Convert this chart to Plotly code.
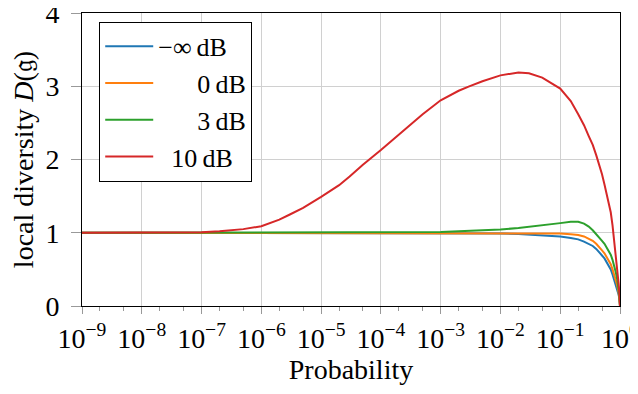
import plotly.graph_objects as go

# probability grid (x) shared by all curves
prob = [1e-9, 1e-8, 3e-8, 1e-7, 2e-7, 3e-7, 5e-7, 1e-6, 2e-6, 3e-6, 5e-6,
        1e-5, 2e-5, 3e-5, 5e-5, 1e-4, 2e-4, 3e-4, 5e-4, 1e-3, 2e-3, 3e-3,
        5e-3, 1e-2, 2e-2, 3e-2, 5e-2, 0.1, 0.15, 0.2, 0.25, 0.3, 0.35, 0.4,
        0.45, 0.5, 0.55, 0.6, 0.65, 0.7, 0.75, 0.8, 0.85, 0.9, 0.95, 0.975,
        0.99, 1.0]

# local diversity
d_minf = [1.0, 1.0, 1.0, 1.0, 1.0, 1.0, 1.0, 1.0, 1.0, 1.0, 1.0,
          1.0, 1.0, 1.0, 1.0, 1.0, 1.0, 1.0, 1.0, 0.999, 0.998, 0.996,
          0.994, 0.99, 0.982, 0.976, 0.966, 0.95, 0.93, 0.91, 0.88, 0.85, 0.82, 0.78,
          0.74, 0.69, 0.65, 0.6, 0.55, 0.5, 0.43, 0.36, 0.3, 0.23, 0.15, 0.1,
          0.04, 0.0]
d_0db = [1.0, 1.0, 1.0, 1.0, 1.0, 1.0, 1.0, 1.0, 1.0, 1.0, 1.0,
         1.0, 1.0, 1.0, 1.0, 1.0, 1.0, 1.0, 1.0, 1.0, 1.0, 1.0,
         1.0, 0.999, 0.998, 0.997, 0.995, 0.99, 0.98, 0.97, 0.95, 0.92, 0.89, 0.85,
         0.81, 0.76, 0.72, 0.67, 0.62, 0.57, 0.5, 0.43, 0.36, 0.28, 0.18, 0.12,
         0.05, 0.0]
d_3db = [1.0, 1.0, 1.0, 1.0, 1.0, 1.0, 1.0, 1.0, 1.0, 1.0, 1.0,
         1.0, 1.0, 1.0, 1.0, 1.0, 1.002, 1.003, 1.006, 1.01, 1.02, 1.025,
         1.033, 1.045, 1.065, 1.08, 1.1, 1.132, 1.152, 1.15, 1.125, 1.085, 1.035, 0.985,
         0.94, 0.89, 0.85, 0.8, 0.75, 0.7, 0.63, 0.55, 0.46, 0.36, 0.23, 0.15,
         0.06, 0.0]
d_10db = [1.0, 1.0, 1.0, 1.006, 1.02, 1.033, 1.05, 1.09, 1.18, 1.25, 1.34,
          1.49, 1.65, 1.77, 1.93, 2.13, 2.34, 2.47, 2.62, 2.81, 2.94, 3.0,
          3.07, 3.15, 3.19, 3.18, 3.12, 2.97, 2.8, 2.62, 2.47, 2.32, 2.2, 2.06,
          1.93, 1.8, 1.66, 1.52, 1.42, 1.28, 1.1, 0.9, 0.72, 0.53, 0.3, 0.18,
          0.07, 0.0]

x_ticks = [1e-9, 1e-8, 1e-7, 1e-6, 1e-5, 1e-4, 1e-3, 1e-2, 1e-1, 1.0]
x_labels = ["10<sup>\u2212%d</sup>" % k for k in range(9, 0, -1)] + ["10<sup>0</sup>"]
y_ticks = [0, 1, 2, 3, 4]

series = [
    ("\u2212\u221e\u2009dB\u2002", d_minf, "#1f77b4"),
    ("\u2003\u20020\u2009dB", d_0db, "#ff7f0e"),
    ("\u2003\u20023\u2009dB", d_3db, "#2ca02c"),
    ("\u200210\u2009dB", d_10db, "#d62728"),
]

FONT = "Liberation Serif, DejaVu Serif, serif"

fig = go.Figure()
for name, vals, col in series:
    fig.add_trace(go.Scatter(
        x=prob, y=vals, mode="lines", name=name,
        line=dict(color=col, width=2),
    ))

# page body adds an 8px offset, so the figure is sized to fit inside it
fig.update_layout(
    width=630, height=386,
    margin=dict(l=74, r=18, t=5, b=88),
    paper_bgcolor="white", plot_bgcolor="white",
    font=dict(family=FONT, size=28, color="black"),
    showlegend=True,
    legend=dict(
        x=0.032, y=0.97, xanchor="left", yanchor="top",
        bordercolor="black", borderwidth=1, bgcolor="white",
        font=dict(family=FONT, size=26, color="black"),
        itemwidth=48, tracegroupgap=0,
    ),
)

fig.update_xaxes(
    type="log", range=[-9, 0], automargin=False, ticklabeloverflow="allow",
    tickmode="array", tickvals=x_ticks, ticktext=x_labels,
    showline=True, linecolor="black", linewidth=1, mirror=True,
    showgrid=True, gridcolor="#d0d0d0", gridwidth=1,
    ticks="outside", ticklen=7, tickcolor="#999999",
    minor=dict(ticks="outside", ticklen=4, tickcolor="#999999", showgrid=False),
    title=dict(text="Probability", font=dict(family=FONT, size=28, color="black"), standoff=6),
    tickfont=dict(family=FONT, size=28, color="black"),
    zeroline=False,
)
fig.update_yaxes(
    range=[0, 4.002], automargin=False, ticklabeloverflow="allow",
    tickmode="array", tickvals=y_ticks,
    showline=True, linecolor="black", linewidth=1, mirror=True,
    showgrid=True, gridcolor="#d0d0d0", gridwidth=1,
    ticks="outside", ticklen=10, tickcolor="#999999", ticklabelstandoff=6,
    title=dict(text="local diversity <i>D</i>(\U0001d524)",
               font=dict(family=FONT, size=28, color="black"), standoff=12),
    tickfont=dict(family=FONT, size=28, color="black"),
    zeroline=False,
)

fig.write_html("out.html", config={"displayModeBar": False})
